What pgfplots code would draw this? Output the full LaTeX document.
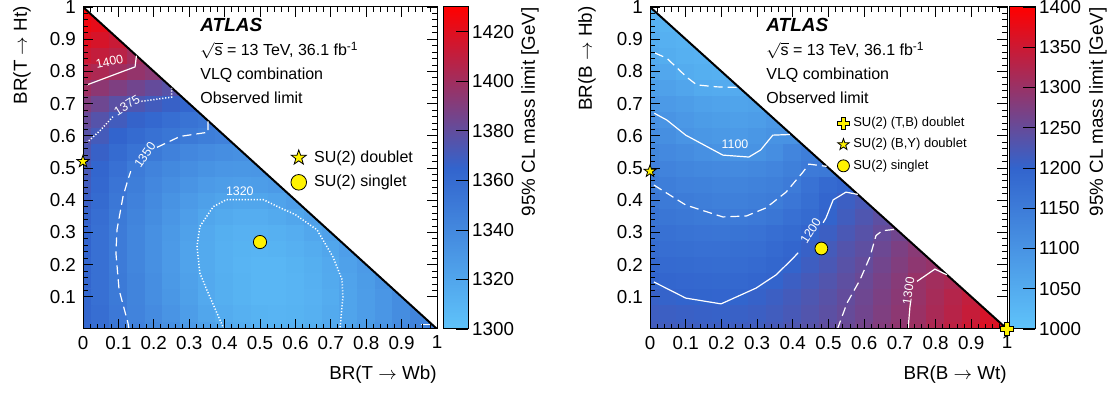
\documentclass[border=0pt]{standalone}
\usepackage{pgfplots}
\pgfplotsset{compat=1.18}
\usepackage{fontspec}
\setmainfont{Liberation Sans}
\usetikzlibrary{plotmarks}

\newcommand\fA{\fontsize{9.4}{11}\selectfont}
\newcommand\fB{\fontsize{8}{9.6}\selectfont}
\newcommand\fC{\fontsize{6.5}{7.8}\selectfont}
\newcommand\fD{\fontsize{6.2}{7.4}\selectfont}
\newcommand\fT{\fontsize{9.5}{11}\selectfont}

\pgfdeclareplotmark{fstar}{%
  \pgfpathmoveto{\pgfqpointpolar{90}{\pgfplotmarksize}}%
  \pgfpathlineto{\pgfqpointpolar{126}{0.4\pgfplotmarksize}}%
  \pgfpathlineto{\pgfqpointpolar{162}{\pgfplotmarksize}}%
  \pgfpathlineto{\pgfqpointpolar{198}{0.4\pgfplotmarksize}}%
  \pgfpathlineto{\pgfqpointpolar{234}{\pgfplotmarksize}}%
  \pgfpathlineto{\pgfqpointpolar{270}{0.4\pgfplotmarksize}}%
  \pgfpathlineto{\pgfqpointpolar{306}{\pgfplotmarksize}}%
  \pgfpathlineto{\pgfqpointpolar{342}{0.4\pgfplotmarksize}}%
  \pgfpathlineto{\pgfqpointpolar{18}{\pgfplotmarksize}}%
  \pgfpathlineto{\pgfqpointpolar{54}{0.4\pgfplotmarksize}}%
  \pgfpathclose
  \pgfusepathqfillstroke}
\pgfdeclareplotmark{fplus}{%
  \pgfpathmoveto{\pgfqpoint{0.33\pgfplotmarksize}{\pgfplotmarksize}}%
  \pgfpathlineto{\pgfqpoint{0.33\pgfplotmarksize}{0.33\pgfplotmarksize}}%
  \pgfpathlineto{\pgfqpoint{\pgfplotmarksize}{0.33\pgfplotmarksize}}%
  \pgfpathlineto{\pgfqpoint{\pgfplotmarksize}{-0.33\pgfplotmarksize}}%
  \pgfpathlineto{\pgfqpoint{0.33\pgfplotmarksize}{-0.33\pgfplotmarksize}}%
  \pgfpathlineto{\pgfqpoint{0.33\pgfplotmarksize}{-\pgfplotmarksize}}%
  \pgfpathlineto{\pgfqpoint{-0.33\pgfplotmarksize}{-\pgfplotmarksize}}%
  \pgfpathlineto{\pgfqpoint{-0.33\pgfplotmarksize}{-0.33\pgfplotmarksize}}%
  \pgfpathlineto{\pgfqpoint{-\pgfplotmarksize}{-0.33\pgfplotmarksize}}%
  \pgfpathlineto{\pgfqpoint{-\pgfplotmarksize}{0.33\pgfplotmarksize}}%
  \pgfpathlineto{\pgfqpoint{-0.33\pgfplotmarksize}{0.33\pgfplotmarksize}}%
  \pgfpathlineto{\pgfqpoint{-0.33\pgfplotmarksize}{\pgfplotmarksize}}%
  \pgfpathclose
  \pgfusepathqfillstroke}

\pgfplotsset{
  colormap={atlas}{rgb255(0cm)=(95,195,250); rgb255(1cm)=(50,100,205); rgb255(2cm)=(255,0,0)},
  mainax/.style={anchor=south west, scale only axis, height=161pt,
    xmin=0, xmax=1, ymin=0, ymax=1, axis on top, colormap name=atlas,
    xtick={0,0.1,0.2,0.3,0.4,0.5,0.6,0.7,0.8,0.9,1},
    xticklabels={0,0.1,0.2,0.3,0.4,0.5,0.6,0.7,0.8,0.9,1},
    ytick={0.1,0.2,0.3,0.4,0.5,0.6,0.7,0.8,0.9,1},
    yticklabels={0.1,0.2,0.3,0.4,0.5,0.6,0.7,0.8,0.9,1},
    minor x tick num=4, minor y tick num=4,
    tick align=inside, major tick length=5pt, minor tick length=2.5pt,
    tick style={black, line width=0.4pt},
    axis line style={black, line width=0.5pt},
    tick label style={font=\fA},
    colorbar},
  cbar/.style={at={(parent axis.north east)}, anchor=north west,
    scale only axis, height=161pt, tick align=inside, major tick length=6pt,
    ytick pos=right, yticklabel pos=right,
    yticklabel style={font=\fA, xshift=-1.5pt},
    axis line style={black, line width=0.5pt},
    tick style={black, line width=0.4pt}},
  overax/.style={anchor=south west, scale only axis, height=161pt,
    xmin=0, xmax=1, ymin=0, ymax=1, hide axis, clip=false},
  ymk/.style={only marks, mark options={fill=yellow, draw=black, line width=0.4pt}},
  csol/.style={white, line width=0.6pt},
  cdash/.style={white, line width=0.6pt, dash pattern=on 4.5pt off 2.5pt},
  cdot/.style={white, line width=0.75pt, dash pattern=on 0.6pt off 0.9pt},
}

\begin{document}
\begin{tikzpicture}
\useasboundingbox (0,0) rectangle (556pt,197pt);

% ---------------- left: T quark ----------------
\begin{axis}[mainax, at={(41.5pt,32.5pt)}, width=177pt,
  point meta min=1300, point meta max=1430,
  colorbar style={cbar, xshift=-5.5pt, width=12.5pt,
    ytick={1300,1320,1340,1360,1380,1400,1420},
    yticklabels={1300,1320,1340,1360,1380,1400,1420}}]
\addplot[matrix plot*, mesh/cols=21, point meta=explicit] table[row sep=\\, header=false,
  x expr={mod(\coordindex,21)*0.05}, y expr={floor((\coordindex+0.5)/21)*0.05}, meta index=0] {
1362\\1358\\1352\\1345\\1340\\1335\\1328\\1323\\1319\\1315\\1312\\1311\\1312\\1314\\1318\\1322\\1327\\1332\\1338\\1344\\1350\\
1363\\1358\\1351\\1344\\1338\\1332\\1326\\1320\\1316\\1313\\1311\\1310\\1311\\1313\\1317\\1321\\1326\\1331\\1337\\1343\\1343\\
1363\\1357\\1350\\1343\\1336\\1330\\1324\\1318\\1314\\1311\\1309\\1309\\1310\\1312\\1316\\1321\\1326\\1331\\1337\\1337\\1337\\
1364\\1357\\1350\\1343\\1336\\1329\\1323\\1318\\1314\\1311\\1309\\1309\\1310\\1313\\1317\\1322\\1327\\1333\\1333\\1333\\1333\\
1364\\1357\\1349\\1342\\1335\\1328\\1322\\1317\\1313\\1310\\1309\\1309\\1311\\1314\\1318\\1323\\1328\\1328\\1328\\1328\\1328\\
1365\\1357\\1349\\1342\\1335\\1328\\1322\\1317\\1313\\1311\\1310\\1311\\1313\\1316\\1320\\1325\\1325\\1325\\1325\\1325\\1325\\
1365\\1357\\1349\\1342\\1335\\1329\\1323\\1318\\1314\\1312\\1312\\1313\\1315\\1319\\1323\\1323\\1323\\1323\\1323\\1323\\1323\\
1366\\1358\\1350\\1343\\1337\\1331\\1325\\1320\\1317\\1315\\1315\\1317\\1320\\1324\\1324\\1324\\1324\\1324\\1324\\1324\\1324\\
1368\\1360\\1352\\1345\\1339\\1333\\1328\\1324\\1321\\1320\\1320\\1322\\1325\\1325\\1325\\1325\\1325\\1325\\1325\\1325\\1325\\
1370\\1362\\1354\\1347\\1341\\1336\\1332\\1328\\1326\\1325\\1326\\1328\\1328\\1328\\1328\\1328\\1328\\1328\\1328\\1328\\1328\\
1372\\1364\\1357\\1349\\1344\\1340\\1336\\1333\\1331\\1330\\1331\\1331\\1331\\1331\\1331\\1331\\1331\\1331\\1331\\1331\\1331\\
1374\\1367\\1360\\1355\\1350\\1345\\1341\\1338\\1336\\1335\\1335\\1335\\1335\\1335\\1335\\1335\\1335\\1335\\1335\\1335\\1335\\
1377\\1371\\1365\\1360\\1356\\1353\\1350\\1347\\1345\\1345\\1345\\1345\\1345\\1345\\1345\\1345\\1345\\1345\\1345\\1345\\1345\\
1382\\1376\\1370\\1366\\1362\\1358\\1355\\1352\\1352\\1352\\1352\\1352\\1352\\1352\\1352\\1352\\1352\\1352\\1352\\1352\\1352\\
1390\\1384\\1378\\1374\\1370\\1367\\1364\\1364\\1364\\1364\\1364\\1364\\1364\\1364\\1364\\1364\\1364\\1364\\1364\\1364\\1364\\
1399\\1394\\1389\\1385\\1381\\1377\\1377\\1377\\1377\\1377\\1377\\1377\\1377\\1377\\1377\\1377\\1377\\1377\\1377\\1377\\1377\\
1407\\1404\\1400\\1396\\1393\\1393\\1393\\1393\\1393\\1393\\1393\\1393\\1393\\1393\\1393\\1393\\1393\\1393\\1393\\1393\\1393\\
1414\\1411\\1408\\1401\\1401\\1401\\1401\\1401\\1401\\1401\\1401\\1401\\1401\\1401\\1401\\1401\\1401\\1401\\1401\\1401\\1401\\
1420\\1417\\1413\\1413\\1413\\1413\\1413\\1413\\1413\\1413\\1413\\1413\\1413\\1413\\1413\\1413\\1413\\1413\\1413\\1413\\1413\\
1425\\1422\\1422\\1422\\1422\\1422\\1422\\1422\\1422\\1422\\1422\\1422\\1422\\1422\\1422\\1422\\1422\\1422\\1422\\1422\\1422\\
1429\\1429\\1429\\1429\\1429\\1429\\1429\\1429\\1429\\1429\\1429\\1429\\1429\\1429\\1429\\1429\\1429\\1429\\1429\\1429\\1429\\
};
\addplot[fill=white, draw=none] coordinates {(-0.05,1.05) (1.05,1.05) (1.05,-0.05)};
\addplot[black, line width=1pt] coordinates {(0,1) (1,0)};
% contours
\addplot[csol] coordinates {(0.011,0.758) (0.147,0.814) (0.151,0.849)};
\addplot[cdot] coordinates {(0.01,0.578) (0.048,0.616) (0.085,0.66)};
\addplot[cdot] coordinates {(0.165,0.707) (0.25,0.72) (0.25,0.749)};
\addplot[cdash] coordinates {(0.13,0.0) (0.127,0.019) (0.102,0.121) (0.093,0.236) (0.096,0.308) (0.113,0.411) (0.127,0.464) (0.135,0.49)};
\addplot[cdash] coordinates {(0.209,0.564) (0.274,0.598) (0.353,0.611) (0.353,0.645)};
\addplot[cdot] coordinates {(0.398,0.0) (0.35,0.121) (0.33,0.174) (0.322,0.257) (0.33,0.318) (0.368,0.38) (0.406,0.402) (0.509,0.402) (0.55,0.38) (0.6,0.355) (0.661,0.308) (0.706,0.224) (0.732,0.153) (0.734,0.1) (0.726,0.0)};
\addplot[cdash] coordinates {(0.955,0.015) (0.985,0.015)};
\node[font=\fD, text=white, rotate=12] at (axis cs:0.075,0.83) {1400};
\node[font=\fD, text=white, rotate=32] at (axis cs:0.124,0.695) {1375};
\node[font=\fD, text=white, rotate=55] at (axis cs:0.175,0.54) {1350};
\node[font=\fD, text=white] at (axis cs:0.443,0.428) {1320};
\end{axis}

\begin{axis}[overax, at={(41.5pt,32.5pt)}, width=177pt,
  legend style={at={(0.579,0.562)}, anchor=north west, draw=none, fill=none,
    font=\fB, inner sep=0pt, row sep=3pt, column sep=0pt, nodes={inner sep=1pt}},
  legend cell align=left,
  legend image code/.code={\draw[#1, mark size=3.9pt] plot coordinates {(5pt,0pt)}; \path (0pt,0pt) (11.5pt,0pt);}]
\addplot[ymk, mark=fstar, mark size=3.2pt] coordinates {(0,0.52)};
\addlegendentry{SU(2) doublet}
\addplot[ymk, mark=*, mark size=3.3pt] coordinates {(0.5,0.27)};
\addlegendentry{SU(2) singlet}
\end{axis}

% ---------------- right: B quark ----------------
\begin{axis}[mainax, at={(325pt,32.5pt)}, width=178.5pt,
  point meta min=1000, point meta max=1400,
  colorbar style={cbar, xshift=-7.5pt, width=13pt,
    ytick={1000,1050,1100,1150,1200,1250,1300,1350,1400},
    yticklabels={1000,1050,1100,1150,1200,1250,1300,1350,1400}}]
\addplot[matrix plot*, mesh/cols=21, point meta=explicit] table[row sep=\\, header=false,
  x expr={mod(\coordindex,21)*0.05}, y expr={floor((\coordindex+0.5)/21)*0.05}, meta index=0] {
1216\\1215\\1213\\1211\\1210\\1212\\1215\\1220\\1227\\1235\\1245\\1254\\1265\\1278\\1292\\1305\\1320\\1335\\1350\\1365\\1380\\
1212\\1210\\1208\\1206\\1205\\1207\\1210\\1215\\1222\\1231\\1241\\1251\\1262\\1275\\1289\\1302\\1316\\1330\\1345\\1360\\1360\\
1206\\1203\\1200\\1198\\1197\\1199\\1204\\1210\\1218\\1227\\1237\\1248\\1259\\1272\\1286\\1299\\1313\\1327\\1341\\1341\\1341\\
1199\\1196\\1193\\1191\\1190\\1192\\1196\\1201\\1210\\1220\\1231\\1243\\1255\\1268\\1283\\1300\\1309\\1318\\1318\\1318\\1318\\
1191\\1188\\1185\\1183\\1182\\1184\\1188\\1194\\1201\\1212\\1224\\1237\\1249\\1263\\1277\\1290\\1298\\1298\\1298\\1298\\1298\\
1183\\1180\\1177\\1175\\1174\\1176\\1180\\1187\\1195\\1206\\1219\\1232\\1243\\1257\\1272\\1285\\1285\\1285\\1285\\1285\\1285\\
1175\\1172\\1168\\1166\\1165\\1167\\1171\\1178\\1186\\1197\\1210\\1224\\1236\\1250\\1262\\1262\\1262\\1262\\1262\\1262\\1262\\
1167\\1163\\1158\\1154\\1151\\1151\\1155\\1163\\1174\\1186\\1201\\1215\\1228\\1242\\1242\\1242\\1242\\1242\\1242\\1242\\1242\\
1158\\1154\\1149\\1145\\1142\\1142\\1145\\1150\\1162\\1177\\1195\\1210\\1222\\1222\\1222\\1222\\1222\\1222\\1222\\1222\\1222\\
1149\\1145\\1140\\1136\\1133\\1133\\1136\\1142\\1152\\1170\\1188\\1195\\1195\\1195\\1195\\1195\\1195\\1195\\1195\\1195\\1195\\
1138\\1134\\1129\\1125\\1122\\1121\\1124\\1130\\1142\\1153\\1156\\1156\\1156\\1156\\1156\\1156\\1156\\1156\\1156\\1156\\1156\\
1127\\1122\\1116\\1108\\1101\\1099\\1101\\1112\\1130\\1145\\1145\\1145\\1145\\1145\\1145\\1145\\1145\\1145\\1145\\1145\\1145\\
1116\\1110\\1100\\1093\\1088\\1086\\1092\\1101\\1103\\1103\\1103\\1103\\1103\\1103\\1103\\1103\\1103\\1103\\1103\\1103\\1103\\
1104\\1099\\1091\\1083\\1078\\1076\\1080\\1090\\1090\\1090\\1090\\1090\\1090\\1090\\1090\\1090\\1090\\1090\\1090\\1090\\1090\\
1090\\1086\\1079\\1072\\1068\\1066\\1070\\1070\\1070\\1070\\1070\\1070\\1070\\1070\\1070\\1070\\1070\\1070\\1070\\1070\\1070\\
1076\\1072\\1064\\1053\\1050\\1050\\1050\\1050\\1050\\1050\\1050\\1050\\1050\\1050\\1050\\1050\\1050\\1050\\1050\\1050\\1050\\
1064\\1058\\1048\\1043\\1040\\1040\\1040\\1040\\1040\\1040\\1040\\1040\\1040\\1040\\1040\\1040\\1040\\1040\\1040\\1040\\1040\\
1052\\1047\\1041\\1037\\1037\\1037\\1037\\1037\\1037\\1037\\1037\\1037\\1037\\1037\\1037\\1037\\1037\\1037\\1037\\1037\\1037\\
1044\\1040\\1036\\1036\\1036\\1036\\1036\\1036\\1036\\1036\\1036\\1036\\1036\\1036\\1036\\1036\\1036\\1036\\1036\\1036\\1036\\
1037\\1034\\1034\\1034\\1034\\1034\\1034\\1034\\1034\\1034\\1034\\1034\\1034\\1034\\1034\\1034\\1034\\1034\\1034\\1034\\1034\\
1030\\1030\\1030\\1030\\1030\\1030\\1030\\1030\\1030\\1030\\1030\\1030\\1030\\1030\\1030\\1030\\1030\\1030\\1030\\1030\\1030\\
};
\addplot[fill=white, draw=none] coordinates {(-0.05,1.05) (1.05,1.05) (1.05,-0.05)};
\addplot[black, line width=1pt] coordinates {(0,1) (1,0)};
% contours
\addplot[cdash] coordinates {(0.014,0.857) (0.047,0.841) (0.103,0.782) (0.131,0.758) (0.187,0.752) (0.25,0.75)};
\addplot[csol] coordinates {(0.012,0.67) (0.047,0.649) (0.1,0.602) (0.204,0.54) (0.277,0.534) (0.31,0.556) (0.344,0.602) (0.392,0.604)};
\addplot[cdash] coordinates {(0.011,0.447) (0.1,0.385) (0.204,0.348) (0.27,0.351) (0.325,0.376) (0.381,0.425) (0.429,0.488) (0.445,0.512) (0.495,0.505)};
\addplot[csol] coordinates {(0.011,0.146) (0.1,0.096) (0.199,0.078) (0.297,0.127) (0.353,0.168) (0.401,0.22) (0.415,0.237)};
\addplot[csol] coordinates {(0.485,0.33) (0.493,0.345) (0.513,0.401) (0.549,0.425) (0.582,0.418)};
\addplot[cdash] coordinates {(0.525,0.0) (0.552,0.081) (0.588,0.152) (0.616,0.224) (0.633,0.29) (0.65,0.305) (0.69,0.31)};
\addplot[csol] coordinates {(0.723,0.0) (0.728,0.068) (0.73,0.085)};
\addplot[csol] coordinates {(0.748,0.148) (0.798,0.186) (0.832,0.168)};
\node[font=\fD, text=white] at (axis cs:0.238,0.573) {1100};
\node[font=\fD, text=white, rotate=58] at (axis cs:0.45,0.305) {1200};
\node[font=\fD, text=white, rotate=82] at (axis cs:0.724,0.118) {1300};
\end{axis}

\begin{axis}[overax, at={(325pt,32.5pt)}, width=178.5pt,
  legend style={at={(0.52,0.664)}, anchor=north west, draw=none, fill=none,
    font=\fC, inner sep=0pt, row sep=2.8pt, column sep=0pt, nodes={inner sep=0.8pt}},
  legend cell align=left,
  legend image code/.code={\draw[#1, mark size=3pt] plot coordinates {(3.5pt,0pt)}; \path (0pt,0pt) (7.4pt,0pt);}]
\addplot[ymk, mark=fplus, mark size=3.3pt] coordinates {(1,0)};
\addlegendentry{SU(2) (T,B) doublet}
\addplot[ymk, mark=fstar, mark size=3.2pt] coordinates {(0,0.49)};
\addlegendentry{SU(2) (B,Y) doublet}
\addplot[ymk, mark=*, mark size=3.2pt] coordinates {(0.48,0.25)};
\addlegendentry{SU(2) singlet}
\end{axis}

% ---------------- texts ----------------
\node[anchor=base west, inner sep=0pt, font=\fT] at (100pt,181pt) {\textbf{\textit{ATLAS}}};
\node[anchor=base west, inner sep=0pt, font=\fB] at (100pt,169pt) {$\sqrt{\mbox{s}}$ = 13 TeV, 36.1 fb\textsuperscript{-1}};
\node[anchor=base west, inner sep=0pt, font=\fB] at (100pt,157pt) {VLQ combination};
\node[anchor=base west, inner sep=0pt, font=\fB] at (100pt,145pt) {Observed limit};

\node[anchor=base west, inner sep=0pt, font=\fT] at (383pt,181pt) {\textbf{\textit{ATLAS}}};
\node[anchor=base west, inner sep=0pt, font=\fB] at (383pt,169pt) {$\sqrt{\mbox{s}}$ = 13 TeV, 36.1 fb\textsuperscript{-1}};
\node[anchor=base west, inner sep=0pt, font=\fB] at (383pt,157pt) {VLQ combination};
\node[anchor=base west, inner sep=0pt, font=\fB] at (383pt,145pt) {Observed limit};

\node[rotate=90, anchor=east, inner sep=0pt, font=\fA] at (11pt,194pt) {BR(T $\rightarrow$ Ht)};
\node[rotate=90, anchor=east, inner sep=0pt, font=\fA] at (293.5pt,194pt) {BR(B $\rightarrow$ Hb)};
\node[anchor=east, inner sep=0pt, font=\fA] at (218.5pt,9.5pt) {BR(T $\rightarrow$ Wb)};
\node[anchor=east, inner sep=0pt, font=\fA] at (503.5pt,9.5pt) {BR(B $\rightarrow$ Wt)};
\node[rotate=90, anchor=east, inner sep=0pt, font=\fA] at (265pt,193.5pt) {95\% CL mass limit [GeV]};
\node[rotate=90, anchor=east, inner sep=0pt, font=\fA] at (549pt,193.5pt) {95\% CL mass limit [GeV]};
\end{tikzpicture}
\end{document}
